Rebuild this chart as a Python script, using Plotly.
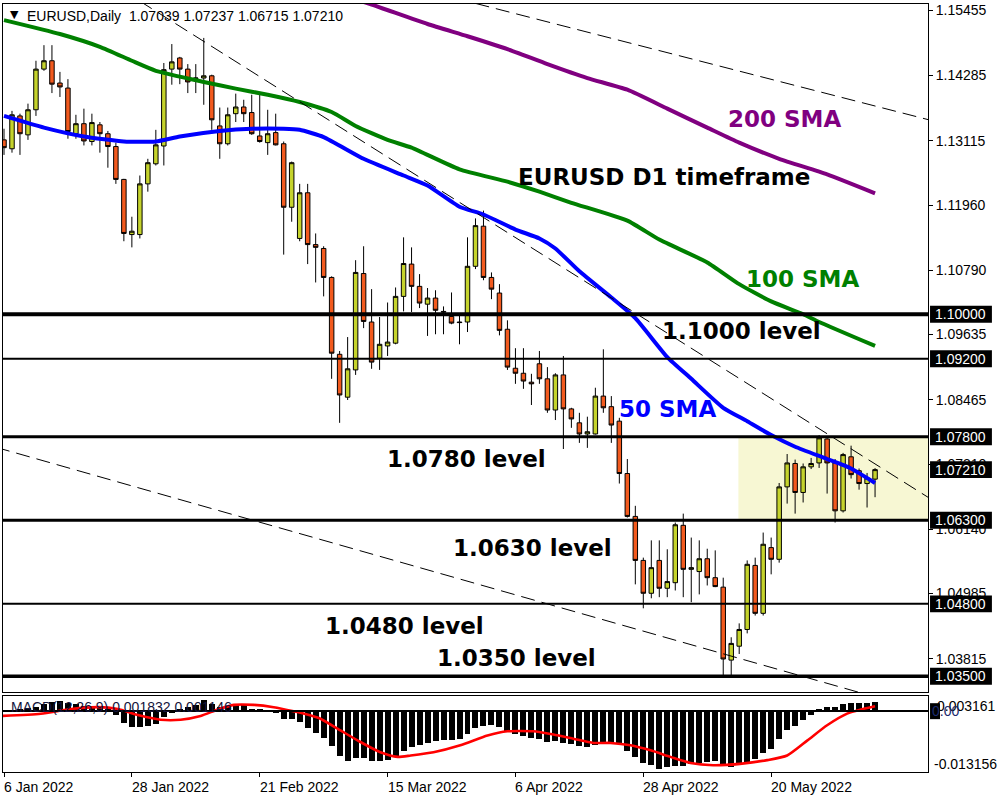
import plotly.graph_objects as go
import pandas as pd

# ---------------- data ----------------
DATES = pd.bdate_range("2022-01-06", periods=110)

OPEN = [1.1313, 1.1297, 1.1356, 1.1322, 1.1367, 1.1440, 1.1455, 1.1415, 1.1406, 1.1324,
        1.1342, 1.1310, 1.1340, 1.1324, 1.1301, 1.1242, 1.1143, 1.1143, 1.1234, 1.1270,
        1.1302, 1.1440, 1.1460, 1.1440, 1.1423, 1.1424, 1.1428, 1.1338, 1.1306, 1.1360,
        1.1372, 1.1362, 1.1320, 1.1308, 1.1326, 1.1306, 1.1192, 1.1136, 1.1218, 1.1125,
        1.1118, 1.1066, 1.0928, 1.0851, 1.0900, 1.1073, 1.0986, 1.0921, 1.0943, 1.0948,
        1.1032, 1.1090, 1.1050, 1.1018, 1.1029, 1.1005, 1.0996, 1.0986, 1.0986, 1.1086,
        1.1158, 1.1066, 1.1038, 1.0973, 1.0903, 1.0894, 1.0878, 1.0911, 1.0884, 1.0828,
        1.0891, 1.0830, 1.0805, 1.0785, 1.0785, 1.0853, 1.0834, 1.0808, 1.0714, 1.0637,
        1.0558, 1.0499, 1.0558, 1.0508, 1.0518, 1.0621, 1.0542, 1.0538, 1.0561, 1.0527,
        1.0510, 1.0379, 1.0404, 1.0434, 1.0549, 1.0463, 1.0581, 1.0560, 1.0690, 1.0732,
        1.0680, 1.0726, 1.0733, 1.0776, 1.0733, 1.0647, 1.0744, 1.0719, 1.0696, 1.07039]
HIGH = [1.1333, 1.1365, 1.1360, 1.1378, 1.1455, 1.1483, 1.1483, 1.1435, 1.1422, 1.1358,
        1.1369, 1.1360, 1.1345, 1.1329, 1.1308, 1.1243, 1.1175, 1.1249, 1.1279, 1.1331,
        1.1451, 1.1485, 1.1462, 1.1449, 1.1449, 1.1496, 1.1430, 1.1371, 1.1371, 1.1396,
        1.1385, 1.1394, 1.1394, 1.1367, 1.1360, 1.1310, 1.1274, 1.1234, 1.1234, 1.1145,
        1.1122, 1.1068, 1.0934, 1.0959, 1.1097, 1.1122, 1.1045, 1.0995, 1.1021, 1.1048,
        1.1138, 1.1120, 1.1072, 1.1047, 1.1043, 1.1014, 1.1039, 1.1000, 1.1138, 1.1172,
        1.1186, 1.1075, 1.1054, 1.0989, 1.0939, 1.0939, 1.0893, 1.0934, 1.0905, 1.0894,
        1.0925, 1.0832, 1.0823, 1.0816, 1.0868, 1.0937, 1.0853, 1.0814, 1.0740, 1.0656,
        1.0563, 1.0594, 1.0594, 1.0578, 1.0626, 1.0642, 1.0599, 1.0594, 1.0579, 1.0576,
        1.0527, 1.0420, 1.0445, 1.0558, 1.0563, 1.0608, 1.0599, 1.0697, 1.0749, 1.0739,
        1.0732, 1.0742, 1.0783, 1.0778, 1.0740, 1.0751, 1.0764, 1.0723, 1.0715, 1.07237]
LOW = [1.1286, 1.1290, 1.1286, 1.1313, 1.1356, 1.1437, 1.1397, 1.1390, 1.1315, 1.1315,
       1.1303, 1.1303, 1.1290, 1.1263, 1.1234, 1.1131, 1.1120, 1.1136, 1.1220, 1.1267,
       1.1267, 1.1412, 1.1413, 1.1397, 1.1397, 1.1376, 1.1331, 1.1279, 1.1303, 1.1345,
       1.1345, 1.1322, 1.1308, 1.1286, 1.1303, 1.1107, 1.1166, 1.1131, 1.1090, 1.1057,
       1.1032, 1.0884, 1.0805, 1.0846, 1.0891, 1.0975, 1.0902, 1.0900, 1.0925, 1.0946,
       1.1005, 1.1004, 1.1011, 1.0961, 1.0964, 1.0964, 1.0982, 1.0946, 1.0968, 1.1081,
       1.1061, 1.1027, 1.0962, 1.0900, 1.0875, 1.0866, 1.0837, 1.0875, 1.0823, 1.0810,
       1.0758, 1.0796, 1.0769, 1.0760, 1.0784, 1.0823, 1.0769, 1.0696, 1.0635, 1.0515,
       1.0472, 1.0490, 1.0492, 1.0492, 1.0504, 1.0492, 1.0483, 1.0497, 1.0513, 1.0510,
       1.0348, 1.0348, 1.0390, 1.0427, 1.0459, 1.0459, 1.0533, 1.0554, 1.0660, 1.0642,
       1.0662, 1.0722, 1.0724, 1.0678, 1.0626, 1.0644, 1.0705, 1.0685, 1.0653, 1.06715]
CLOSE = [1.1299, 1.1358, 1.1324, 1.1367, 1.1440, 1.1455, 1.1413, 1.1408, 1.1328, 1.1342,
         1.1311, 1.1344, 1.1324, 1.1301, 1.1242, 1.1145, 1.1149, 1.1234, 1.1272, 1.1304,
         1.1439, 1.1453, 1.1440, 1.1417, 1.1424, 1.1428, 1.1349, 1.1306, 1.1358, 1.1372,
         1.1360, 1.1324, 1.1310, 1.1324, 1.1304, 1.1192, 1.1272, 1.1218, 1.1125, 1.1120,
         1.1066, 1.0930, 1.0855, 1.0902, 1.1075, 1.0987, 1.0914, 1.0946, 1.0950, 1.1032,
         1.1091, 1.1050, 1.1020, 1.1029, 1.1007, 1.1004, 1.0984, 1.0985, 1.1086, 1.1159,
         1.1066, 1.1045, 1.0971, 1.0905, 1.0894, 1.0880, 1.0875, 1.0884, 1.0828, 1.0891,
         1.0830, 1.0812, 1.0785, 1.0789, 1.0853, 1.0832, 1.0801, 1.0714, 1.0637, 1.0558,
         1.0499, 1.0545, 1.0508, 1.0520, 1.0622, 1.0542, 1.0545, 1.0561, 1.0527, 1.0511,
         1.0381, 1.0409, 1.0434, 1.0551, 1.0463, 1.0587, 1.0560, 1.0690, 1.0733, 1.0680,
         1.0726, 1.0732, 1.0778, 1.0733, 1.0647, 1.0748, 1.0712, 1.0696, 1.0706, 1.07210]

SMA50_IDX = [0, 5, 10, 15, 19, 22, 27, 31, 35, 37, 40, 45, 50, 53, 57, 60, 64, 67, 69, 72,
             76, 79, 83, 86, 90, 93, 96, 99, 103, 106, 109]
SMA50_VAL = [1.1356, 1.1335, 1.1319, 1.1310, 1.1310, 1.1319, 1.1329, 1.1333, 1.1333, 1.1331,
             1.1318, 1.1279, 1.1249, 1.1231, 1.1193, 1.1179, 1.1152, 1.1136, 1.1118, 1.1077,
             1.1030, 1.0993, 1.0923, 1.0884, 1.0832, 1.0808, 1.0783, 1.0762, 1.0740, 1.0723,
             1.0697]
SMA100_IDX = [0, 7, 12, 16, 19, 25, 29, 33, 37, 41, 44, 48, 51, 57, 63, 67, 71, 78, 82, 88,
              92, 96, 100, 102, 109]
SMA100_VAL = [1.1528, 1.1503, 1.1480, 1.1455, 1.1437, 1.1417, 1.1405, 1.1394, 1.1381, 1.1363,
              1.1338, 1.1313, 1.1299, 1.1260, 1.1238, 1.1220, 1.1200, 1.1168, 1.1134, 1.1093,
              1.1054, 1.1023, 1.1000, 1.0986, 1.0943]
SMA200_IDX = [44, 46, 53, 58, 63, 68, 73, 78, 83, 88, 92, 97, 103, 109]
SMA200_VAL = [1.1565, 1.1556, 1.1521, 1.1499, 1.1476, 1.1449, 1.1424, 1.1403, 1.1369, 1.1335,
              1.1308, 1.1279, 1.1251, 1.1217]

MACD_MAIN = [-0.0002, 0.0000, 0.0002, 0.0005, 0.0008, 0.0015, 0.0019, 0.0020, 0.0017, 0.0014,
             0.0011, 0.0009, 0.0006, 0.0002, -0.0010, -0.0026, -0.0036, -0.0036, -0.0034, -0.0028,
             -0.0013, -0.0004, 0.0004, 0.0008, 0.0012, 0.0022, 0.0015, 0.0008, 0.0008, 0.0012,
             0.0012, 0.0004, 0.0002, -0.0001, -0.0004, -0.0017, -0.0018, -0.0024, -0.0037, -0.0048,
             -0.0059, -0.0076, -0.0097, -0.0108, -0.0102, -0.0102, -0.0108, -0.0108, -0.0106, -0.0097,
             -0.0087, -0.0078, -0.0074, -0.0069, -0.0065, -0.0063, -0.0063, -0.0061, -0.0050, -0.0037,
             -0.0033, -0.0031, -0.0035, -0.0044, -0.0050, -0.0054, -0.0059, -0.0061, -0.0067, -0.0065,
             -0.0069, -0.0071, -0.0076, -0.0078, -0.0074, -0.0067, -0.0069, -0.0069, -0.0086, -0.0099,
             -0.0112, -0.0117, -0.0126, -0.0121, -0.0119, -0.0119, -0.0114, -0.0112, -0.0110, -0.0108,
             -0.0114, -0.0121, -0.0116, -0.0112, -0.0104, -0.0091, -0.0083, -0.0062, -0.0042, -0.0033,
             -0.0019, -0.0009, 0.0004, 0.0009, 0.0008, 0.0014, 0.0017, 0.0017, 0.0017, 0.0018]
SIG_IDX = [-0.4, 4.6, 8.4, 11.75, 14.25, 16.75, 19.6, 22.1, 24.6, 26.75, 28.75, 31.25, 33.75,
           36.25, 38.4, 39.6, 42.1, 44.6, 47.1, 49.25, 50.9, 53.75, 57.1, 60.5, 63, 66.25, 68.75,
           71.25, 73.75, 75.9, 78.4, 80.9, 83.4, 85.9, 88.75, 92.1, 95.5, 98, 100.5, 103, 105.5,
           107.5, 109]
SIG_VAL = [-0.0011, -0.0006, 0.0004, 0.0008, 0.0004, -0.0009, -0.0019, -0.0019, -0.0011, 0.0003,
           0.0013, 0.0013, 0.0008, -0.0001, -0.0010, -0.0017, -0.0042, -0.0067, -0.0089, -0.0099,
           -0.0096, -0.0089, -0.0074, -0.0053, -0.0044, -0.0044, -0.0051, -0.0060, -0.0069, -0.0069,
           -0.0074, -0.0085, -0.0099, -0.0112, -0.0117, -0.0114, -0.0106, -0.0096, -0.0064, -0.0031,
           -0.0006, 0.0004, 0.0010]

LEVELS = [1.1000, 1.0920, 1.0780, 1.0630, 1.0480, 1.0350]
LEVEL_WIDTHS = [4, 2, 3, 3, 2, 3.5]
PRICE_TAGS = [1.10000, 1.09200, 1.07800, 1.07210, 1.06300, 1.04800, 1.03500]
Y_TICKS = [1.15455, 1.14285, 1.13115, 1.11960, 1.10790, 1.09635, 1.08465, 1.07310, 1.06140,
           1.04985, 1.03815]
TICK_IDX = [0, 16, 32, 48, 64, 80, 96]

TREND_LINES = [
    ([59, 116], [1.1558, 1.1348]),
    ([17, 116], [1.1562, 1.0668]),
    ([-1, 108], [1.0761, 1.0317]),
]
ZONE = dict(x0=91.9, y0=1.0630, y1=1.0780)

LABELS = [  # text, x index (left), price, color
    ("EURUSD D1 timeframe", 64.5, 1.1247, "black"),
    ("200 SMA", 90.75, 1.1351, "#800080"),
    ("100 SMA", 93.0, 1.1063, "#008000"),
    ("1.1000 level", 82.5, 1.0970, "black"),
    ("50 SMA", 77.1, 1.0830, "#0000FF"),
    ("1.0780 level", 48.1, 1.0740, "black"),
    ("1.0630 level", 56.25, 1.0581, "black"),
    ("1.0480 level", 40.25, 1.0440, "black"),
    ("1.0350 level", 54.25, 1.0382, "black"),
]

HEADER = "EURUSD,Daily  1.07039 1.07237 1.06715 1.07210"
MACD_TITLE = "MACD(12,26,9) 0.001832 0.001146"
MACD_MAX, MACD_MIN = 0.003161, -0.013156

# ---------------- styling ----------------
BULL = "#C5D32C"
BEAR = "#F25A1E"
XRANGE = [-0.125, 115.625]
YRANGE = [1.03214, 1.15569]
AXFONT = dict(family="Liberation Sans, Arial, sans-serif", size=14, color="black")
IDX = list(range(len(OPEN)))

fig = go.Figure()
fig.add_trace(go.Candlestick(
    x=IDX, open=OPEN, high=HIGH, low=LOW, close=CLOSE,
    increasing=dict(fillcolor=BULL, line=dict(color="black", width=1)),
    decreasing=dict(fillcolor=BEAR, line=dict(color="black", width=1)),
    whiskerwidth=0, hovertext=[d.strftime("%d %b %Y") for d in DATES],
    xaxis="x", yaxis="y", showlegend=False))

for xs, ys, col in [(SMA200_IDX, SMA200_VAL, "#800080"),
                    (SMA100_IDX, SMA100_VAL, "#008000"),
                    (SMA50_IDX, SMA50_VAL, "#0000FF")]:
    fig.add_trace(go.Scatter(x=xs, y=ys, mode="lines",
                             line=dict(color=col, width=4, shape="spline", smoothing=0.5),
                             xaxis="x", yaxis="y", hoverinfo="skip", showlegend=False))

for xs, ys in TREND_LINES:
    fig.add_trace(go.Scatter(x=xs, y=ys, mode="lines",
                             line=dict(color="black", width=1, dash="14px,7px"),
                             xaxis="x", yaxis="y", hoverinfo="skip", showlegend=False))

fig.add_trace(go.Bar(x=IDX, y=MACD_MAIN, width=0.75, marker=dict(color="black", line=dict(width=0)),
                     xaxis="x2", yaxis="y2", showlegend=False))
fig.add_trace(go.Scatter(x=SIG_IDX, y=SIG_VAL, mode="lines",
                         line=dict(color="#FF0000", width=2.6, shape="spline", smoothing=0.6),
                         xaxis="x2", yaxis="y2", showlegend=False))

shapes = []
shapes.append(dict(type="rect", xref="x", yref="y", x0=ZONE["x0"], x1=XRANGE[1],
                   y0=ZONE["y0"], y1=ZONE["y1"], fillcolor="#F7F7D3", line=dict(width=0),
                   layer="below"))
for lv, w in zip(LEVELS, LEVEL_WIDTHS):
    shapes.append(dict(type="line", xref="paper", yref="y", x0=0, x1=1, y0=lv, y1=lv,
                       line=dict(color="black", width=w), layer="above"))
half = 0.00152
for p in PRICE_TAGS:
    shapes.append(dict(type="rect", xref="paper", yref="y", x0=1.0022, x1=1.0691,
                       y0=p - half, y1=p + half, fillcolor="black", line=dict(width=0),
                       layer="above"))
shapes.append(dict(type="line", xref="paper", yref="y2", x0=0, x1=1, y0=0, y1=0,
                   line=dict(color="black", width=2), layer="above"))
shapes.append(dict(type="rect", xref="paper", yref="paper", x0=1.0022, x1=1.0130,
                   y0=0.0688, y1=0.0896, fillcolor="black", line=dict(width=0), layer="above"))

ann = []
for text, xi, py, col in LABELS:
    ann.append(dict(text="<b>%s</b>" % text, x=xi, y=py, xref="x", yref="y",
                    xanchor="left", yanchor="middle", showarrow=False, xshift=-3,
                    font=dict(family="DejaVu Sans, Verdana, sans-serif", size=23, color=col)))
for p in PRICE_TAGS:
    ann.append(dict(text="%.5f" % p, x=1.0356, y=p, xref="paper", yref="y",
                    xanchor="center", yanchor="middle", showarrow=False,
                    font=dict(family=AXFONT["family"], size=14, color="white")))
ann.append(dict(text="\u25BC", x=0.0054, y=0.9857, xref="paper", yref="paper",
                xanchor="left", yanchor="middle", showarrow=False,
                font=dict(family="DejaVu Sans", size=11, color="black")))
ann.append(dict(text=HEADER, x=0.0240, y=0.9844, xref="paper", yref="paper",
                xanchor="left", yanchor="middle", showarrow=False, font=AXFONT))
ann.append(dict(text=MACD_TITLE, x=0.0065, y=0.0844, xref="paper", yref="paper",
                xanchor="left", yanchor="middle", showarrow=False,
                font=dict(family=AXFONT["family"], size=14, color="#14143c")))
ann.append(dict(text="%.6f" % MACD_MAX, x=1.0076, y=0.0857, xref="paper", yref="paper",
                xanchor="left", yanchor="middle", showarrow=False, font=AXFONT))
ann.append(dict(text="0.00", x=1.0022, y=0.0792, xref="paper", yref="paper",
                xanchor="left", yanchor="middle", showarrow=False,
                font=dict(family=AXFONT["family"], size=14, color="#1c2a6e")))
ann.append(dict(text="%.6f" % MACD_MIN, x=1.0043, y=0.0104, xref="paper", yref="paper",
                xanchor="left", yanchor="middle", showarrow=False, font=AXFONT))
for ti in TICK_IDX:
    d = DATES[ti]
    ann.append(dict(text="%d %s" % (d.day, d.strftime("%b %Y")), x=ti, y=-0.0195,
                    xref="x2", yref="paper", xanchor="left", yanchor="middle",
                    xshift=-2, showarrow=False, font=AXFONT))

axis_common = dict(showline=True, mirror=True, linecolor="black", linewidth=1,
                   showgrid=False, zeroline=False, fixedrange=True)
fig.update_layout(
    width=1000, height=800, margin=dict(l=2, r=72, t=2, b=28),
    paper_bgcolor="white", plot_bgcolor="white", showlegend=False,
    boxgap=0.2, bargap=0,
    xaxis=dict(domain=[0, 1], range=XRANGE, anchor="y", showticklabels=False, ticks="",
               rangeslider=dict(visible=False), **axis_common),
    yaxis=dict(domain=[0.1039, 1], range=YRANGE, anchor="x", side="right",
               tickvals=Y_TICKS, ticktext=["%.5f" % v for v in Y_TICKS],
               ticks="outside", ticklen=4, tickcolor="black", tickfont=AXFONT, **axis_common),
    xaxis2=dict(domain=[0, 1], range=XRANGE, anchor="y2", tickvals=TICK_IDX,
                showticklabels=False, ticks="outside", ticklen=4, tickcolor="black",
                **axis_common),
    yaxis2=dict(domain=[0, 0.0987], range=[MACD_MIN, MACD_MAX], anchor="x2", side="right",
                showticklabels=False, ticks="", **axis_common),
    shapes=shapes, annotations=ann,
)

fig.write_html("out.html", config={"displayModeBar": False},
               post_script="document.body.style.margin='0';")
